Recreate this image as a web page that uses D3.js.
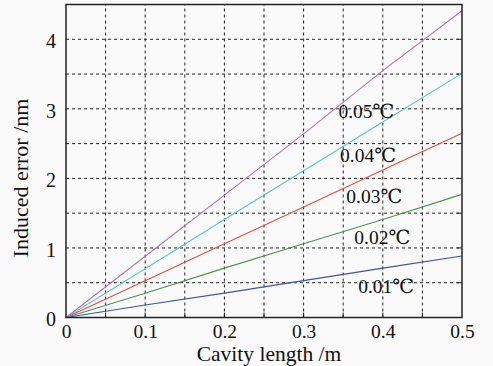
<!DOCTYPE html>
<html><head><meta charset="utf-8">
<script src="https://cdn.jsdelivr.net/npm/d3@7"></script>
<style>body{margin:0;background:#fafafa}svg{display:block}</style>
</head><body>
<script>
const xValues = [0, 0.1, 0.2, 0.3, 0.4, 0.5];
const s001 = [0, 0.18, 0.35, 0.53, 0.71, 0.885];
const s002 = [0, 0.35, 0.71, 1.06, 1.41, 1.77];
const s003 = [0, 0.53, 1.06, 1.59, 2.12, 2.65];
const s004 = [0, 0.70, 1.41, 2.11, 2.81, 3.51];
const s005 = [0, 0.88, 1.76, 2.64, 3.55, 4.41];
const seriesNames = ["0.01℃", "0.02℃", "0.03℃", "0.04℃", "0.05℃"];
const seriesColors = ["#3a52bc", "#4f9152", "#f0483a", "#58c8c8", "#a975c5"];
const xTicks = [0, 0.1, 0.2, 0.3, 0.4, 0.5];
const yTicks = [0, 1, 2, 3, 4];
const xGrid = [0.05,0.1,0.15,0.2,0.25,0.3,0.35,0.4,0.45];
const yGrid = [0.5,1,1.5,2,2.5,3,3.5,4];
// label anchor positions in data units
const labelPos = [[0.369, 0.35], [0.364, 1.06], [0.354, 1.64], [0.346, 2.23], [0.344, 2.87]];

const W = 493, H = 366;
const m = {l: 66, r: 31, t: 4.5, b: 48.5};
const svg = d3.select("body").append("svg").attr("width", W).attr("height", H);
const x = d3.scaleLinear().domain([0, 0.5]).range([m.l, W - m.r]);
const y = d3.scaleLinear().domain([0, 4.5]).range([H - m.b, m.t]);
const font = "'Liberation Serif', 'DejaVu Serif', serif";

const g = svg.append("g");
g.selectAll("line.vg").data(xGrid).join("line")
  .attr("x1", d => x(d)).attr("x2", d => x(d)).attr("y1", y(0)).attr("y2", y(4.5))
  .attr("stroke", "#222").attr("stroke-width", 1).attr("stroke-dasharray", "3,3");
g.selectAll("line.hg").data(yGrid).join("line")
  .attr("y1", d => y(d)).attr("y2", d => y(d)).attr("x1", x(0)).attr("x2", x(0.5))
  .attr("stroke", "#222").attr("stroke-width", 1).attr("stroke-dasharray", "3,3");
g.selectAll("line.xt").data(xGrid).join("line")
  .attr("x1", d => x(d)).attr("x2", d => x(d)).attr("y1", y(0)).attr("y2", y(0)-5)
  .attr("stroke", "#222");
g.selectAll("line.yt").data(yGrid).join("line")
  .attr("y1", d => y(d)).attr("y2", d => y(d)).attr("x1", x(0.5)).attr("x2", x(0.5)-5)
  .attr("stroke", "#222");

const line = d3.line().x((d,i) => x(xValues[i])).y(d => y(d));
[s001, s002, s003, s004, s005].forEach((s, i) => {
  svg.append("path").datum(s).attr("d", line).attr("fill", "none")
    .attr("stroke", seriesColors[i]).attr("stroke-width", 1.1);
});

svg.append("rect").attr("x", m.l).attr("y", m.t).attr("width", x(0.5)-m.l).attr("height", y(0)-m.t)
  .attr("fill", "none").attr("stroke", "#222").attr("stroke-width", 1.5);

seriesNames.forEach((n, i) => {
  svg.append("text").attr("x", x(labelPos[i][0])).attr("y", y(labelPos[i][1]))
    .attr("font-family", font).attr("font-size", 19.5).attr("fill", "#111").text(n);
});

const xAxis = d3.axisBottom(x).tickValues(xTicks).tickSize(0).tickPadding(7).tickFormat(d => d === 0 ? "0" : d3.format(".1f")(d));
const ax = svg.append("g").attr("transform", `translate(0,${y(0)})`).call(xAxis);
ax.select(".domain").remove();
ax.selectAll("text").attr("font-family", font).attr("font-size", 19.5).attr("fill", "#111");
const yAxis = d3.axisLeft(y).tickValues(yTicks).tickSize(0).tickPadding(10).tickFormat(d3.format("d"));
const ay = svg.append("g").attr("transform", `translate(${x(0)},0)`).call(yAxis);
ay.select(".domain").remove();
ay.selectAll("text").attr("font-family", font).attr("font-size", 20).attr("fill", "#111").attr("dy", "0.42em");

svg.append("text").attr("x", 269).attr("y", 361).attr("text-anchor", "middle")
  .attr("font-family", font).attr("font-size", 21.5).attr("fill", "#111").text("Cavity length /m");
svg.append("text").attr("transform", "translate(28,178) rotate(-90)").attr("text-anchor", "middle")
  .attr("font-family", font).attr("font-size", 22).attr("fill", "#111").text("Induced error /nm");
</script>
</body></html>
